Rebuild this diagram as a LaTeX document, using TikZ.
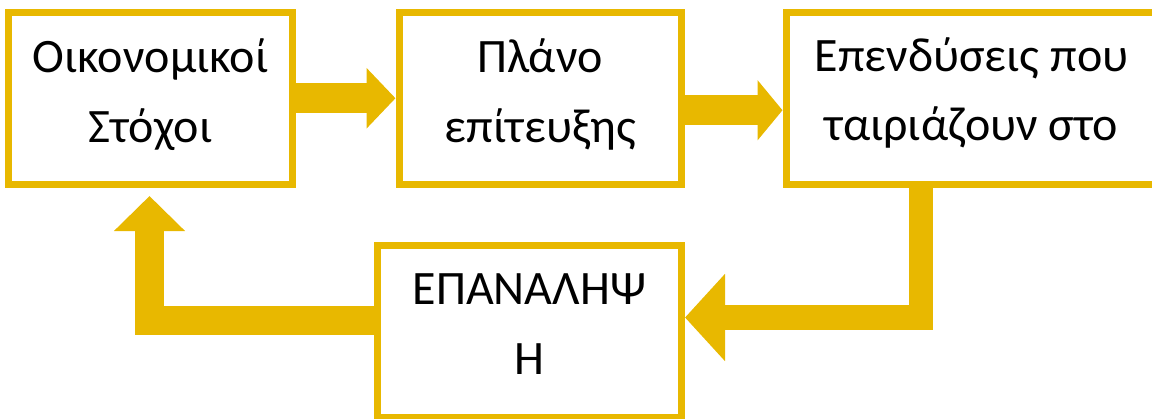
\documentclass[tikz,border=0pt]{standalone}
\usepackage{fontspec}
\setmainfont{Carlito}
\usetikzlibrary{arrows.meta,calc}
\definecolor{gold}{RGB}{232,184,0}
\tikzset{
  box/.style={draw=gold, line width=7pt, fill=white, rectangle, minimum height=171.5pt, inner sep=0pt},
  txt/.style={anchor=base, inner sep=0pt, font=\fontsize{48}{58}\selectfont, text=black},
  blockarrow/.style={draw=gold, line cap=butt, line join=miter},
}
\begin{document}
\begin{tikzpicture}[x=1pt,y=-1pt]
\useasboundingbox (0,0) rectangle (1152,418);
\clip (0,0) rectangle (1152,418);
% boxes
\node[box, minimum width=284pt] (b1) at (150.5,98.25) {};
\node[box, minimum width=282.5pt] (b2) at (540.25,98.25) {};
\node[box, minimum width=371pt] (b3) at (971.5,98.25) {};
\node[box, minimum width=304pt] (b4) at (529.5,331.25) {};
% texts
\node[txt] (t1a) at ($(b1.center)+(0,-26.25)$) {Οικονομικοί};
\node[txt] (t1b) at ($(b1.center)+(0,43.75)$) {Στόχοι};
\node[txt] (t2a) at ($(b2.center)+(0,-26.25)$) {Πλάνο};
\node[txt] (t2b) at ($(b2.center)+(0,43.75)$) {επίτευξης};
\node[txt] (t3a) at ($(b3.center)+(0,-27.25)$) {Επενδύσεις που};
\node[txt] (t3b) at ($(b3.center)+(0,41.75)$) {ταιριάζουν στο};
\node[txt] (t4a) at ($(b4.center)+(0,-27.25)$) {ΕΠΑΝΑΛΗΨ};
\node[txt] (t4b) at ($(b4.center)+(0,42.75)$) {Η};
% arrows
\draw[blockarrow, line width=30pt, -{Triangle[width=59pt,length=29pt]}] (b1.east) -- (b2.west);
\draw[blockarrow, line width=30pt, -{Triangle[width=59pt,length=25pt]}] ($(b2.east)+(0,12)$) -- ($(b3.west)+(0,12)$);
\coordinate (c34) at (921,317.5);
\draw[blockarrow, line width=24.5pt, -{Triangle[width=85pt,length=40pt]}] (b3.south -| c34) |- ($(b4.east)+(0,-13.75)$);
\draw[blockarrow, line width=29pt, -{Triangle[width=69pt,length=35pt]}] ($(b4.west)+(0,-10.75)$) -| ($(b1.south)+(-1,8.5)$);
\end{tikzpicture}
\end{document}
